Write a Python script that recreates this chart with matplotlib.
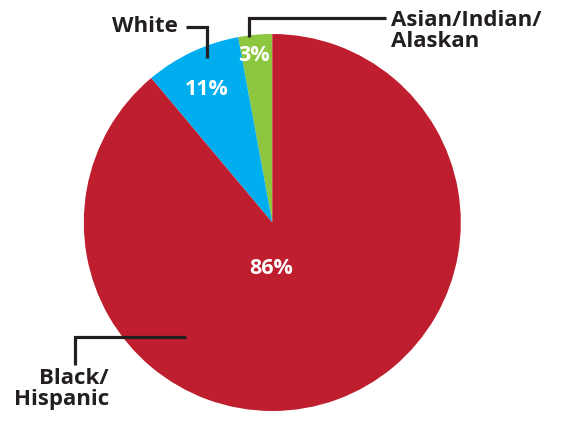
import matplotlib.pyplot as plt

# data (wedge sizes as drawn in the picture, labels as printed)
groups = ["Asian/Indian/\nAlaskan", "White", "Black/\nHispanic"]
wedge_shares = [2.9, 8.2, 88.9]
pct_labels = ["3%", "11%", "86%"]
colors = ["#8DC63F", "#00AEEF", "#BE1E2D"]

W, H = 565, 423

def yy(y):
	# image pixel row -> data y
	return H - y

fig = plt.figure(figsize=(W / 100, H / 100), dpi=100)
ax = fig.add_axes([0, 0, 1, 1])

cx, cy, r = 272.3, yy(222.5), 188.5
ax.pie(wedge_shares, colors=colors, startangle=90, counterclock=True,
	center=(cx, cy), radius=r, frame=True,
	wedgeprops=dict(linewidth=0))
ax.set_xlim(0, W)
ax.set_ylim(0, H)
ax.set_aspect("equal")
ax.set_axis_off()

font = "Open Sans"
dark = "#231F20"

# percentage labels
pct_pos = [(254, 55), (207, 89), (271, 269)]
for lab, (px, py) in zip(pct_labels, pct_pos):
	ax.text(px, yy(py), lab, color="white", fontsize=15.5,
		fontweight="bold", family=font, ha="center", va="center")

# leader lines
lw = 2.3
kw = dict(color=dark, lw=lw, solid_joinstyle="miter", solid_capstyle="butt")
ax.plot([186, 207, 207], [yy(27), yy(27), yy(58)], **kw)
ax.plot([249, 249, 386], [yy(37), yy(18), yy(18)], **kw)
ax.plot([75, 75, 186], [yy(365), yy(337), yy(337)], **kw)

# group labels
ax.text(178, yy(26), groups[1], color=dark, fontsize=16, fontweight="bold",
	family=font, ha="right", va="center")
ax.text(391, yy(31), groups[0], color=dark, fontsize=16, fontweight="bold",
	family=font, ha="left", va="center", linespacing=1.0)
ax.text(109, yy(389), groups[2], color=dark, fontsize=16, fontweight="bold",
	family=font, ha="right", va="center", multialignment="right",
	linespacing=1.0)

fig.savefig("out.png", dpi=100)
